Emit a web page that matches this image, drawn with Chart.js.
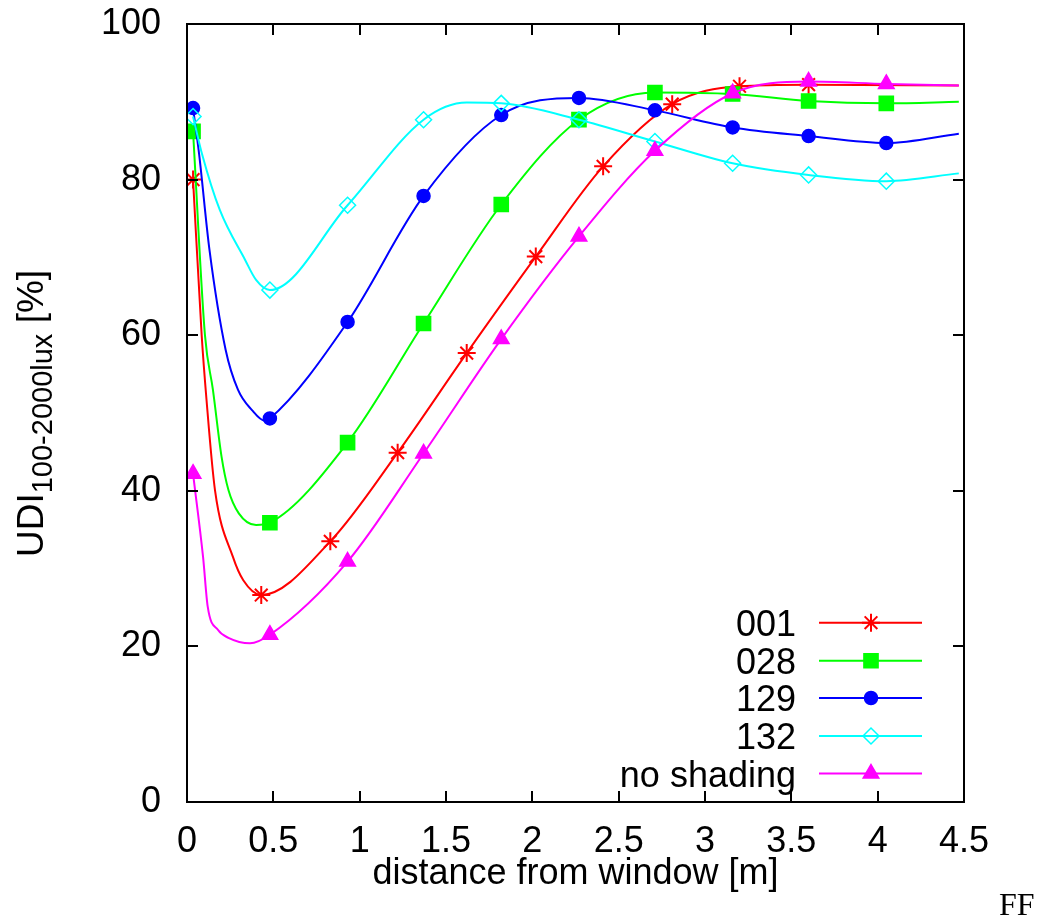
<!DOCTYPE html>
<html>
<head>
<meta charset="utf-8">
<title>UDI vs distance from window</title>
<script src="https://cdn.jsdelivr.net/npm/chart.js@4/dist/chart.umd.min.js"></script>
<style>
  html, body { margin: 0; padding: 0; background: #fff; }
  #chart { display: block; }
</style>
</head>
<body>
<canvas id="chart" width="1040" height="924"></canvas>
<script>
// sensor positions (distance from window, m)
const sensorX = [0.035, 0.48, 0.93, 1.37, 1.82, 2.27, 2.71, 3.16, 3.60, 4.05];
const sensorX001 = [0.035, 0.43, 0.83, 1.22, 1.62, 2.02, 2.41, 2.81, 3.20, 3.60];

// UDI 100-2000 lux [%] at the markers
const udi001 = [80.0, 26.6, 33.5, 44.9, 57.7, 70.1, 81.7, 89.7, 92.0, 92.2];
const udi028 = [86.2, 35.9, 46.2, 61.5, 76.8, 87.7, 91.2, 91.0, 90.1, 89.8];
const udi129 = [89.2, 49.3, 61.7, 77.9, 88.3, 90.5, 88.9, 86.7, 85.6, 84.7];
const udi132 = [88.1, 65.8, 76.7, 87.7, 89.8, 87.7, 84.9, 82.1, 80.6, 79.8];
const udiNoShading = [42.2, 21.5, 30.9, 44.8, 59.5, 72.7, 83.7, 91.1, 92.6, 92.3];

// extra points (no marker there)
const curve001X = [0.085, 0.113, 0.162, 0.266, 0.326, 4.47];
const curve001Y = [60.0, 51.7, 40.1, 31.5, 28.5, 92.1];
const curve028X = [0.104, 0.15, 0.20, 0.24, 0.30, 0.40, 4.47];
const curve028Y = [60.0, 53.0, 44.4, 40.1, 37.1, 35.6, 90.0];
const curve129X = [0.07, 0.13, 0.224, 0.295, 0.375, 0.45, 4.47];
const curve129Y = [83.3, 71.0, 58.1, 53.0, 50.4, 49.0, 85.9];
const curve132X = [0.087, 0.19, 0.336, 0.40, 1.62, 4.47];
const curve132Y = [83.3, 76.1, 69.7, 67.1, 89.9, 80.8];
const curveNoShadingX = [0.093, 0.12, 0.18, 0.24, 0.365, 4.47];
const curveNoShadingY = [31.5, 25.1, 22.1, 21.1, 20.4, 92.1];

const seriesLabels = ['001', '028', '129', '132', 'no shading'];
const xTicks = [0, 0.5, 1, 1.5, 2, 2.5, 3, 3.5, 4, 4.5];
const xTickLabels = ['0', '0.5', '1', '1.5', '2', '2.5', '3', '3.5', '4', '4.5'];
const yTicks = [0, 20, 40, 60, 80, 100];
const yTickLabels = ['0', '20', '40', '60', '80', '100'];

function buildSeries(mx, my, cx, cy) {
  const pts = mx.map((x, i) => ({ x: x, y: my[i], m: true }))
    .concat(cx.map((x, i) => ({ x: x, y: cy[i], m: false })));
  pts.sort((a, b) => a.x - b.x);
  return pts;
}

function makeDataset(label, data, color, style, radius, fill, order) {
  return {
    label: label,
    data: data,
    borderColor: color,
    backgroundColor: color,
    borderWidth: 2,
    pointStyle: style,
    pointRadius: (c) => (c.raw && c.raw.m ? radius : 0),
    pointHoverRadius: (c) => (c.raw && c.raw.m ? radius : 0),
    pointBorderColor: color,
    pointBackgroundColor: fill,
    pointBorderWidth: style === 'star' ? 2 : 1.5,
    cubicInterpolationMode: 'monotone',
    order: order,
  };
}

const datasets = [
  makeDataset(seriesLabels[0], buildSeries(sensorX001, udi001, curve001X, curve001Y), '#ff0000', 'star', 9, '#ff0000', 5),
  makeDataset(seriesLabels[1], buildSeries(sensorX, udi028, curve028X, curve028Y), '#00ff00', 'rect', 10, '#00ff00', 4),
  makeDataset(seriesLabels[2], buildSeries(sensorX, udi129, curve129X, curve129Y), '#0000ff', 'circle', 6.5, '#0000ff', 3),
  makeDataset(seriesLabels[3], buildSeries(sensorX, udi132, curve132X, curve132Y), '#00ffff', 'rectRot', 8, 'rgba(0,0,0,0)', 2),
  makeDataset(seriesLabels[4], buildSeries(sensorX, udiNoShading, curveNoShadingX, curveNoShadingY), '#ff00ff', 'triangle', 9, '#ff00ff', 1),
];

const FONT = "'Liberation Sans', Arial, sans-serif";

// frame, inward ticks, axis titles, legend and the corner note
const framePlugin = {
  id: 'frame',
  afterDraw(chart) {
    const ctx = chart.ctx;
    const a = chart.chartArea;
    const xs = chart.scales.x;
    const ys = chart.scales.y;
    ctx.save();
    ctx.strokeStyle = '#000';
    ctx.lineWidth = 2;
    ctx.strokeRect(a.left, a.top, a.right - a.left, a.bottom - a.top);
    ctx.beginPath();
    xTicks.forEach((v) => {
      const px = Math.round(xs.getPixelForValue(v));
      ctx.moveTo(px, a.bottom); ctx.lineTo(px, a.bottom - 11);
      ctx.moveTo(px, a.top); ctx.lineTo(px, a.top + 11);
    });
    yTicks.forEach((v) => {
      const py = Math.round(ys.getPixelForValue(v));
      ctx.moveTo(a.left, py); ctx.lineTo(a.left + 11, py);
      ctx.moveTo(a.right, py); ctx.lineTo(a.right - 11, py);
    });
    ctx.stroke();

    // x title
    ctx.fillStyle = '#000';
    ctx.font = '36px ' + FONT;
    ctx.textAlign = 'center';
    ctx.textBaseline = 'alphabetic';
    ctx.fillText('distance from window [m]', (a.left + a.right) / 2, 884);

    // y title with subscript
    ctx.save();
    ctx.translate(43, 557);
    ctx.rotate(-Math.PI / 2);
    ctx.textAlign = 'left';
    const mainFont = '37px ' + FONT;
    const subFont = '29px ' + FONT;
    ctx.font = mainFont;
    ctx.fillText('UDI', 0, 0);
    let off = ctx.measureText('UDI').width;
    ctx.font = subFont;
    ctx.fillText('100-2000lux', off, 9);
    off += ctx.measureText('100-2000lux').width;
    ctx.font = mainFont;
    ctx.fillText(' [%]', off, 0);
    ctx.restore();

    // legend
    const rowY = [622.7, 660.7, 698, 736, 773.5];
    chart.data.datasets.forEach((ds, i) => {
      const y = rowY[i];
      ctx.font = '36px ' + FONT;
      ctx.textAlign = 'right';
      ctx.fillStyle = '#000';
      ctx.fillText(ds.label, 796, y + 13);
      ctx.strokeStyle = ds.borderColor;
      ctx.lineWidth = 2;
      ctx.beginPath();
      ctx.moveTo(819, y); ctx.lineTo(922, y);
      ctx.stroke();
      const r = ds.pointRadius({ raw: { m: true } });
      ctx.fillStyle = ds.pointBackgroundColor;
      ctx.lineWidth = ds.pointBorderWidth;
      Chart.helpers.drawPoint(ctx, { pointStyle: ds.pointStyle, rotation: 0, radius: r, borderWidth: ds.pointBorderWidth }, 871, y);
    });

    ctx.fillStyle = '#000';
    ctx.textAlign = 'left';
    ctx.font = "32px 'Liberation Serif', 'Times New Roman', serif";
    ctx.fillText('FF', 999, 915);
    ctx.restore();
  },
};

new Chart(document.getElementById('chart').getContext('2d'), {
  type: 'line',
  data: { datasets: datasets },
  options: {
    responsive: false,
    animation: false,
    events: [],
    layout: { padding: { left: 0, top: 24, right: 76, bottom: 0 } },
    plugins: { legend: { display: false }, tooltip: { enabled: false } },
    scales: {
      x: {
        type: 'linear',
        min: 0,
        max: 4.5,
        afterBuildTicks: (s) => { s.ticks = xTicks.map((v) => ({ value: v })); },
        afterFit: (s) => { s.height = 122; s.paddingLeft = 0; s.paddingRight = 0; },
        grid: { display: false },
        border: { display: false },
        ticks: {
          color: '#000',
          font: { family: FONT, size: 36 },
          padding: 10,
          maxRotation: 0,
          autoSkip: false,
          callback: (v, i) => xTickLabels[i],
        },
      },
      y: {
        type: 'linear',
        min: 0,
        max: 100,
        afterBuildTicks: (s) => { s.ticks = yTicks.map((v) => ({ value: v })); },
        afterFit: (s) => { s.width = 187; s.paddingTop = 0; s.paddingBottom = 0; },
        grid: { display: false },
        border: { display: false },
        ticks: {
          color: '#000',
          font: { family: FONT, size: 36 },
          padding: 18,
          callback: (v, i) => yTickLabels[i],
        },
      },
    },
  },
  plugins: [framePlugin],
});
</script>
</body>
</html>
